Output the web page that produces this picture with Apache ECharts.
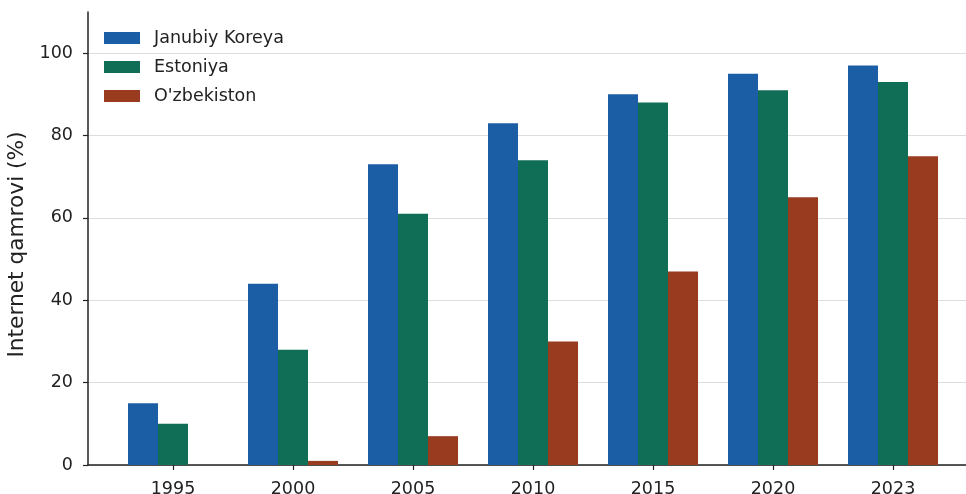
<!DOCTYPE html>
<html><head><meta charset="utf-8">
<script src="https://cdn.jsdelivr.net/npm/echarts@6/dist/echarts.min.js"></script>
<style>html,body{margin:0;padding:0;background:#fff}#c{width:966px;height:494px}</style>
</head><body><div id="c"></div>
<script>
const years = ['1995','2000','2005','2010','2015','2020','2023'];
const koreya = [15, 44, 73, 83, 90, 95, 97];
const estoniya = [10, 28, 61, 74, 88, 91, 93];
const uzbekiston = [0, 1, 7, 30, 47, 65, 75];
const seriesNames = ['Janubiy Koreya', 'Estoniya', "O'zbekiston"];
const colors = ['#1B5EA6', '#106E56', '#983B1F'];
const yTicks = [0, 20, 40, 60, 80, 100];

const idx = years.map((_, i) => i);
const font = 'DejaVu Sans';
const chart = echarts.init(document.getElementById('c'), null, {renderer: 'canvas'});
const mk = (name, vals, color) => ({
  name, type: 'bar', barWidth: 30, barGap: '0%',
  itemStyle: {color},
  data: vals.map((v, i) => [i, v])
});
chart.setOption({
  animation: false,
  textStyle: {fontFamily: font},
  grid: {left: 88, right: 0, top: 12, bottom: 29, containLabel: false, outerBoundsMode: 'none'},
  legend: {
    orient: 'vertical', left: 104, top: 29, padding: 0, itemWidth: 36, itemHeight: 12, itemGap: 11,
    icon: 'rect',
    textStyle: {fontFamily: font, fontSize: 17.5, color: '#222', padding: [0, 0, 0, 9]},
    data: seriesNames
  },
  xAxis: {
    type: 'value', min: -0.7083, max: 6.6083,
    axisLine: {show: true, onZero: false, lineStyle: {color: '#222', width: 1.5}},
    axisTick: {show: true, length: 5, customValues: idx, lineStyle: {color: '#222', width: 1.2}},
    axisLabel: {customValues: idx, formatter: v => years[Math.round(v)] ?? '', fontFamily: font, fontSize: 17.5, color: '#222', margin: 15},
    splitLine: {show: false}
  },
  yAxis: {
    type: 'value', min: 0, max: 110,
    name: 'Internet qamrovi (%)', nameLocation: 'middle', nameGap: 46, nameRotate: 90,
    nameTextStyle: {fontFamily: font, fontSize: 21.7, color: '#222', padding: [0, 12, 0, 0]},
    axisLine: {show: true, onZero: false, lineStyle: {color: '#222', width: 1.5}},
    axisTick: {show: true, length: 5, customValues: yTicks, lineStyle: {color: '#222', width: 1.2}},
    axisLabel: {customValues: yTicks, fontFamily: font, fontSize: 17.5, color: '#222', margin: 15},
    splitLine: {show: true, lineStyle: {color: '#dddddd', width: 1}}
  },
  series: [
    mk(seriesNames[0], koreya, colors[0]),
    mk(seriesNames[1], estoniya, colors[1]),
    mk(seriesNames[2], uzbekiston, colors[2])
  ]
});
</script></body></html>
